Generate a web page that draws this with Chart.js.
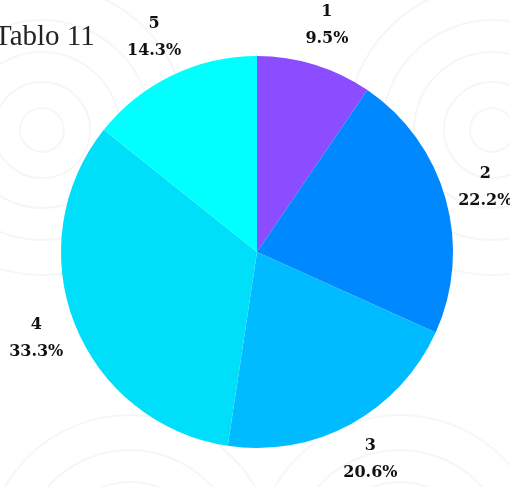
<!DOCTYPE html>
<html>
<head>
<meta charset="utf-8">
<script src="https://cdn.jsdelivr.net/npm/chart.js@4"></script>
<style>
  html, body { margin: 0; padding: 0; background: #fff; }
  #wrap { position: relative; width: 510px; height: 487px; overflow: hidden; }
  #title { position: absolute; left: -6px; top: 19px; font: 29px "Liberation Serif", serif; color: #222; white-space: nowrap; }
</style>
</head>
<body>
<div id="wrap">
  <canvas id="pie" width="510" height="487"></canvas>
  <div id="title">Tablo 11</div>
</div>
<script>
const labels = ['1', '2', '3', '4', '5'];
const counts = [6, 14, 13, 21, 9];
const colors = ['#8c4cff', '#0088ff', '#00bbff', '#00dffa', '#00ffff'];

// faint decorative rings in the background
const rings = {
  id: 'rings',
  beforeDraw(chart) {
    const ctx = chart.ctx;
    ctx.save();
    ctx.strokeStyle = '#f6f6f6';
    ctx.lineWidth = 2;
    [[42, 130], [492, 130], [130, 560], [400, 560]].forEach(([cx, cy]) => {
      [22, 48, 78, 110, 145].forEach(r => {
        ctx.beginPath();
        ctx.arc(cx, cy, r, 0, Math.PI * 2);
        ctx.stroke();
      });
    });
    ctx.restore();
  }
};

// name + percent outside every slice
const outLabels = {
  id: 'outLabels',
  afterDatasetsDraw(chart) {
    const ctx = chart.ctx;
    const total = counts.reduce((a, b) => a + b, 0);
    ctx.save();
    ctx.fillStyle = '#111';
    ctx.textAlign = 'center';
    ctx.textBaseline = 'middle';
    ctx.font = 'bold 16px "DejaVu Serif", serif';
    chart.getDatasetMeta(0).data.forEach((arc, i) => {
      const mid = (arc.startAngle + arc.endAngle) / 2;
      const r = arc.outerRadius * 1.21;
      const x = arc.x + Math.cos(mid) * r;
      const y = arc.y + Math.sin(mid) * r;
      ctx.fillText(labels[i], x, y - 14);
      ctx.fillText((counts[i] / total * 100).toFixed(1) + '%', x, y + 13);
    });
    ctx.restore();
  }
};

new Chart(document.getElementById('pie'), {
  type: 'pie',
  data: {
    labels: labels,
    datasets: [{
      data: counts,
      backgroundColor: colors,
      borderWidth: 0
    }]
  },
  options: {
    responsive: false,
    animation: false,
    layout: { padding: { left: 61, right: 57, top: 56, bottom: 39 } },
    plugins: {
      legend: { display: false },
      tooltip: { enabled: false }
    }
  },
  plugins: [rings, outLabels]
});
</script>
</body>
</html>
